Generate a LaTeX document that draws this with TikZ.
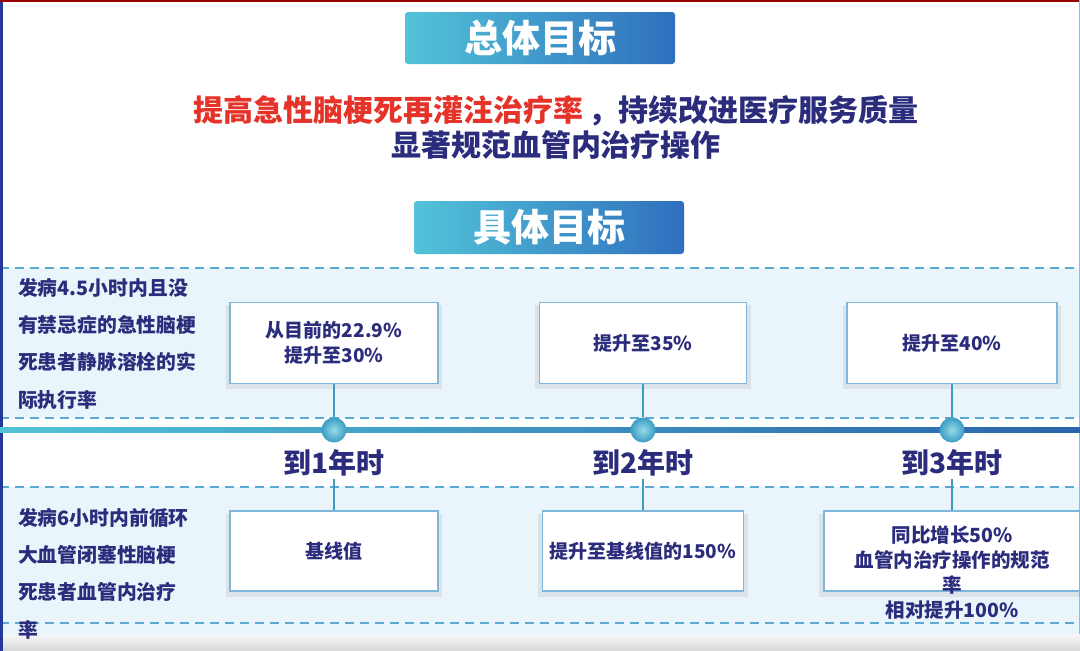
\documentclass[tikz,border=0pt]{standalone}
\usepackage{fontspec}
\setmainfont{Noto Sans CJK SC}
\usetikzlibrary{shadows}
\definecolor{navy}{HTML}{2B2C7C}
\definecolor{redt}{HTML}{E63329}
\definecolor{bandfill}{HTML}{E9F5FB}
\definecolor{dashc}{HTML}{5AAAD6}
\definecolor{tcyan}{HTML}{52C3D8}
\definecolor{tblue}{HTML}{2F6FBE}
\definecolor{boxedge}{HTML}{7DB7DD}
\definecolor{conn}{HTML}{3B9CC4}
\definecolor{frameblue}{HTML}{24389A}
\tikzset{
  titlebox/.style={rounded corners=3pt, left color=tcyan, right color=tblue,
    text=white, font=\fontsize{38}{40}\selectfont\bfseries,
    minimum width=270pt, minimum height=52pt, inner sep=0pt},
  goalbox/.style={draw=boxedge, line width=1.2pt, fill=white,
    drop shadow={opacity=0.15, shadow xshift=0pt, shadow yshift=-4pt, shadow scale=1.04},
    minimum height=81pt, inner sep=0pt, text=navy, align=center,
    font=\fontsize{19}{25}\selectfont\bfseries},
  boxtext/.style={text=navy, align=center, inner sep=0pt,
    font=\fontsize{19.5}{25}\selectfont\bfseries},
  sidetext/.style={text=navy, align=left, anchor=north west, inner sep=0pt,
    font=\fontsize{19.8}{37.3}\selectfont\bfseries},
  yearlabel/.style={text=navy, inner sep=2pt, font=\fontsize{28}{30}\selectfont\bfseries},
  dashline/.style={draw=dashc, line width=1.6pt, dash pattern=on 9pt off 6pt},
  connline/.style={draw=conn, line width=2pt},
  dot/.style={circle, minimum size=25pt, inner sep=0pt, inner color=tcyan!60!white, outer color=conn}
}
\begin{document}
\begin{tikzpicture}[x=1pt, y=-1pt]
\useasboundingbox (0,0) rectangle (1080,651);
\fill[white] (0,0) rectangle (1080,651);
% bands
\fill[bandfill] (0,268) rectangle (1080,418);
\fill[bandfill] (0,487) rectangle (1080,634);
\shade[top color=gray!6, bottom color=gray!32] (0,634) rectangle (1080,651);
\draw[dashline] (0,268) -- (1080,268);
\draw[dashline] (0,418) -- (1080,418);
\draw[dashline] (0,487) -- (1080,487);
\draw[dashline] (0,623) -- (1080,623);
% frame
\draw[frameblue, line width=3pt] (1.5,0) -- (1.5,651);
\draw[red!60!black, line width=1.5pt] (0,0.75) -- (1080,0.75);
\draw[tblue!50, line width=1pt] (1079,0) -- (1079,634);
% titles
\node[titlebox] (t1) at (540,38) {总体目标};
\node[titlebox, minimum height=53pt] (t2) at (549,227.5) {具体目标};
\node[align=center, inner sep=0pt, font=\fontsize{30}{35}\selectfont\bfseries, text=navy] (goal) at (556,127.5)
  {\textcolor{redt}{提高急性脑梗死再灌注治疗率}\,，持续改进医疗服务质量\\显著规范血管内治疗操作};
% timeline
\shade[left color=tcyan, right color=tblue!90!black] (0,427.5) rectangle (1080,432.5);
\node[dot] (c1) at (334,430) {};
\node[dot] (c2) at (643,430) {};
\node[dot] (c3) at (952,430) {};
\node[yearlabel] (y1) at (334,463) {到1年时};
\node[yearlabel] (y2) at (643,463) {到2年时};
\node[yearlabel] (y3) at (952,463) {到3年时};
% side texts
\node[sidetext] (s1) at (18,278) {发病4.5小时内且没\\有禁忌症的急性脑梗\\死患者静脉溶栓的实\\际执行率};
\node[sidetext] (s2) at (18,508) {发病6小时内前循环\\大血管闭塞性脑梗\\死患者血管内治疗\\率};
% upper boxes
\node[goalbox, minimum width=208pt] (u1) at (334,343) {从目前的22.9\%\\提升至30\%};
\node[goalbox, minimum width=207pt] (u2) at (643,343) {提升至35\%};
\node[goalbox, minimum width=210pt] (u3) at (952,343) {提升至40\%};
% lower boxes
\node[goalbox, minimum width=208pt, minimum height=80pt] (l1) at (334,551) {基线值};
\node[goalbox, minimum width=201pt, minimum height=80pt] (l2) at (643,551) {提升至基线值的150\%};
\node[goalbox, minimum width=256pt, minimum height=80pt] (l3) at (952,551) {};
\node[boxtext] (l3t) at (952,573) {同比增长50\%\\血管内治疗操作的规范\\率\\相对提升100\%};
% connectors
\draw[connline] (u1.south) -- (c1);
\draw[connline] (u2.south) -- (c2);
\draw[connline] (u3.south) -- (c3);
\draw[connline] (y1.south) -- (l1.north);
\draw[connline] (y2.south) -- (l2.north);
\draw[connline] (y3.south) -- (l3.north);
\end{tikzpicture}
\end{document}
